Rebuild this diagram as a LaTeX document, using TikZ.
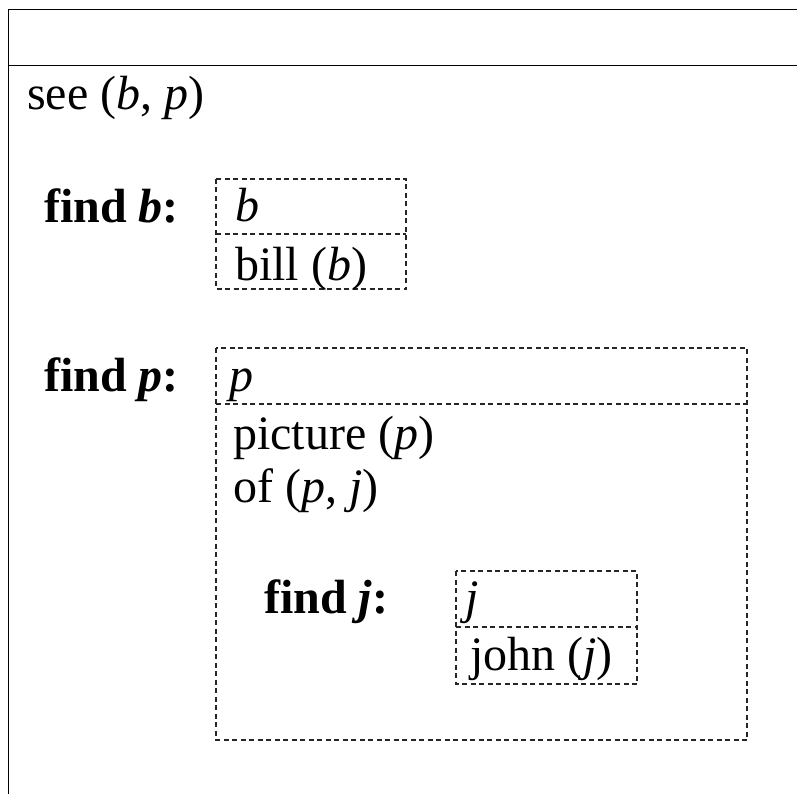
\documentclass[tikz,border=0pt]{standalone}
\usepackage{fontspec}
\setmainfont{Liberation Serif}
\begin{document}
\begin{tikzpicture}[x=1pt,y=-1pt,
  txt/.style={anchor=base west,inner sep=0pt,font=\fontsize{48}{56}\selectfont},
  dbox/.style={draw=black!85,line width=1.2pt,dash pattern=on 5pt off 3.5pt},
  frame/.style={draw=black,line width=1.6pt}]
\useasboundingbox (0,0) rectangle (797,794);
\begin{scope}
\clip (0,0) rectangle (797,794);
\draw[frame] (800,9.5) -- (8.5,9.5) -- (8.5,800);
\draw[frame] (8.5,65.5) -- (800,65.5);
\end{scope}
\node[txt] (see) at (27,110) {see (\textit{b}, \textit{p})};
% find b
\node[txt] (fb) at (44,223) {\textbf{find \textit{b}:}};
\draw[dbox] (216,179) rectangle (406,289);
\draw[dbox] (216,234) -- (406,234);
\node[txt] (vb) at (235,222) {\textit{b}};
\node[txt] (bill) at (235,280) {bill (\textit{b})};
% find p
\node[txt] (fp) at (44,391) {\textbf{find \textit{p}:}};
\draw[dbox] (216,348) rectangle (747,740);
\draw[dbox] (216,404) -- (747,404);
\node[txt] (vp) at (229,391) {\textit{p}};
\node[txt] (pic) at (233,449) {picture (\textit{p})};
\node[txt] (of) at (233,502) {of (\textit{p}, \textit{j})};
% find j
\node[txt] (fj) at (264,613) {\textbf{find \textit{j}:}};
\draw[dbox] (456,571) rectangle (637,684);
\draw[dbox] (456,627) -- (637,627);
\node[txt] (vj) at (465,613) {\textit{j}};
\node[txt] (john) at (470,670) {john (\textit{j})};
\end{tikzpicture}
\end{document}
